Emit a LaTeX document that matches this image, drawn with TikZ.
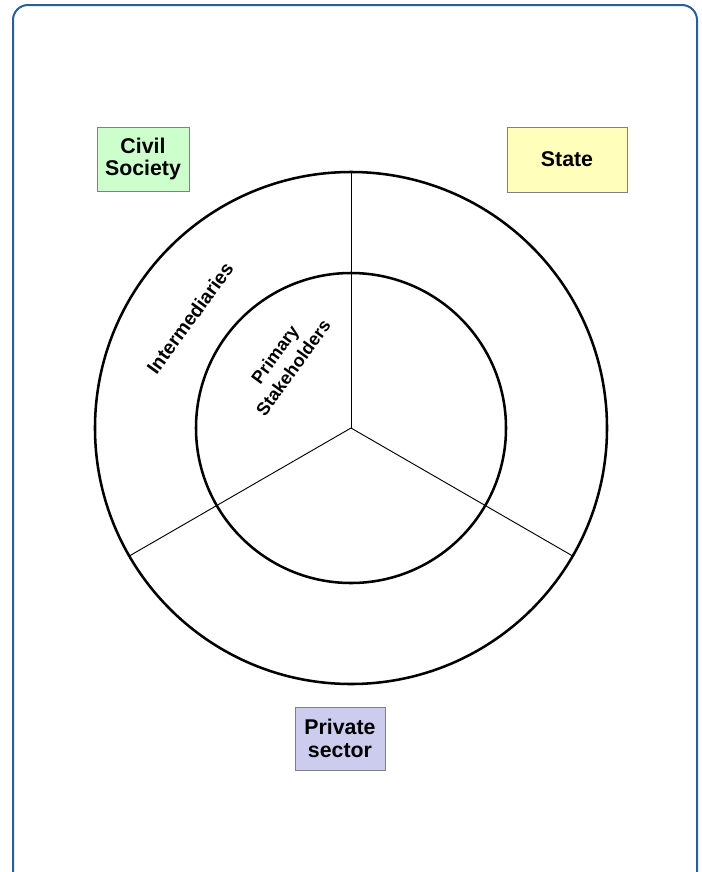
\documentclass[tikz,border=0pt]{standalone}
\usepackage{fontspec}
\setmainfont{Liberation Sans}
\tikzset{
  actor/.style={draw={rgb, 255:red, 128; green, 128; blue, 128 }, line width=0.75, inner sep=0.75pt, align=center, font=\bfseries\fontsize{16}{17}\selectfont},
  ring/.style={circle, draw, line width=1.9, inner sep=0, outer sep=0},
  spoke/.style={line width=0.7},
  ringlabel/.style={rotate=54, inner sep=0.75pt, align=center, font=\bfseries\fontsize{14.5}{15}\selectfont}
}
\begin{document}
\begin{tikzpicture}[x=0.75pt,y=0.75pt,yscale=-1,xscale=1]
\useasboundingbox (0,0) rectangle (702,872);
\clip (0,0) rectangle (702,872);
%Shape: Rounded Rect
\draw [color={rgb, 255:red, 43; green, 93; blue, 155 }, line width=1.5, rounded corners=11.25] (13,5) rectangle (697,900);

\coordinate (hub) at (351,428);
%Shape: Circle
\node [ring, minimum size=384] (outer) at (hub) {};
%Shape: Circle
\node [ring, minimum size=232.5] (inner) at (hub) {};
%Straight Lines
\draw [spoke] (hub) -- (outer.90);
\draw [spoke] (hub) -- (outer.210);
\draw [spoke] (hub) -- (outer.330);

% Text Node
\draw (143,159) node [actor, fill={rgb, 255:red, 204; green, 255; blue, 204 }, minimum width=69, minimum height=48] (civil) {Civil\\Society};
% Text Node
\draw (567,159.5) node [actor, fill={rgb, 255:red, 255; green, 255; blue, 187 }, minimum width=90, minimum height=48.75] (state) {State};
% Text Node
\draw (340,738.5) node [actor, fill={rgb, 255:red, 204; green, 204; blue, 238 }, minimum width=67.5, minimum height=47.25] (private) {Private\\sector};
% Text Node
\draw (190,318) node [ringlabel] (inter) {Intermediaries};
% Text Node
\draw (284,361) node [ringlabel, font=\bfseries\fontsize{13.5}{17}\selectfont] (primary) {Primary\\Stakeholders};
\end{tikzpicture}
\end{document}
